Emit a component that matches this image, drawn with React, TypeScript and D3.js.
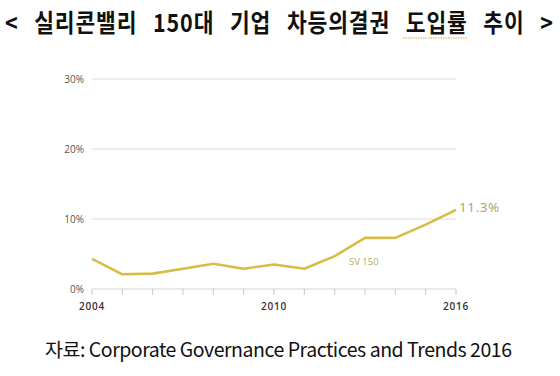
import React from "react";
import * as d3 from "d3";

const years = [2004, 2005, 2006, 2007, 2008, 2009, 2010, 2011, 2012, 2013, 2014, 2015, 2016];
const sv150 = [4.3, 2.1, 2.2, 2.9, 3.6, 2.9, 3.5, 2.9, 4.7, 7.3, 7.3, 9.2, 11.3];
const yTicks = [0, 10, 20, 30];
const xLabelYears = [2004, 2010, 2016];
const title = "< 실리콘밸리 150대 기업 차등의결권 도입률 추이 >";
const source = "자료: Corporate Governance Practices and Trends 2016";
const seriesName = "SV 150";
const endLabel = "11.3%";

export default function App() {
  const W = 560, H = 376;
  const x = d3.scaleLinear().domain([2004, 2016]).range([92, 456]);
  const y = d3.scaleLinear().domain([0, 30]).range([289, 79]);
  const line = d3.line<number>().x((_, i) => x(years[i])).y((d) => y(d));
  const lastI = years.length - 1;
  return (
    <svg width={W} height={H} style={{ position: "absolute", left: 0, top: 0, background: "#fff" }}>
      <rect width={W} height={H} fill="#fff" />
      <g transform="translate(0,32) scale(1,1.14)">
        <text x={5} y={0} textLength={548} lengthAdjust="spacing" wordSpacing={10} fontFamily="'Noto Sans CJK KR', sans-serif" fontWeight={700} fontSize={21.5} fill="#111">
          {title}
        </text>
      </g>
      <line x1={403} x2={467} y1={38} y2={38} stroke="#d9a060" strokeWidth={1} strokeDasharray="1.5,1" />
      {yTicks.map((t) => (
        <g key={t}>
          <line x1={x(2004)} x2={x(2016)} y1={y(t)} y2={y(t)} stroke={t === 0 ? "#d4d4d4" : "#dcdcdc"} strokeWidth={1} />
          <text x={84} y={y(t) + 3.5} textAnchor="end" fontFamily="'Open Sans', sans-serif" fontSize={10} fill="#555">
            {t}%
          </text>
        </g>
      ))}
      {years.map((yr) => (
        <line key={yr} x1={x(yr)} x2={x(yr)} y1={y(0)} y2={y(0) + 6} stroke="#c8c8c8" strokeWidth={1} />
      ))}
      {xLabelYears.map((yr) => (
        <text key={yr} x={x(yr)} y={310} textAnchor="middle" fontFamily="'Open Sans', sans-serif" fontWeight={600} fontSize={10} letterSpacing={0.8} fill="#333">
          {yr}
        </text>
      ))}
      <path d={line(sv150) || ""} fill="none" stroke="#d6bd45" strokeWidth={2.6} strokeLinejoin="round" />
      <text x={459} y={y(sv150[lastI]) + 2} fontFamily="'Open Sans', sans-serif" fontSize={13.5} letterSpacing={0.6} fill="#a9a25e">
        {endLabel}
      </text>
      <text x={349} y={265} fontFamily="'Open Sans', sans-serif" fontSize={9.5} fill="#b3ab6a">
        {seriesName}
      </text>
      <text x={45} y={357} textLength={467} lengthAdjust="spacing" fontFamily="'Noto Sans CJK KR', sans-serif" fontSize={19.5} fill="#111">
        {source}
      </text>
    </svg>
  );
}
